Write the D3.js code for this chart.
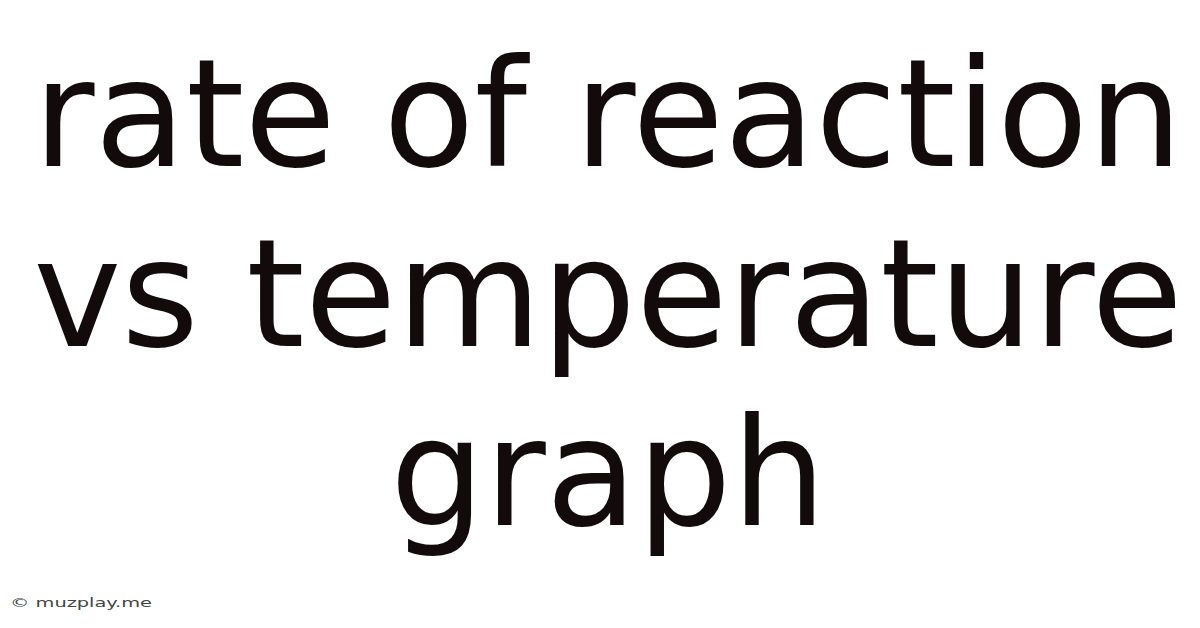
<!DOCTYPE html>
<html>
<head>
<meta charset="utf-8">
<script src="https://cdn.jsdelivr.net/npm/d3@7"></script>
<style>
  body { margin: 0; background: #fff; }
  svg { display: block; }
</style>
</head>
<body>
<div id="chart"></div>
<script>
// Title lines and watermark text
var titleLines = ["rate of reaction", "vs temperature", "graph"];
var watermark = "\u00a9 muzplay.me";

var w = 1200, h = 628;

var svg = d3.select("#chart")
  .append("svg")
  .attr("width", w)
  .attr("height", h);

svg.append("rect")
  .attr("width", w)
  .attr("height", h)
  .attr("fill", "#ffffff");

// one band per line, baselines spaced evenly
var y = d3.scalePoint()
  .domain(d3.range(titleLines.length))
  .range([166, 525]);

svg.selectAll(".title")
  .data(titleLines)
  .enter().append("text")
  .attr("class", "title")
  .attr("x", 608)
  .attr("y", (d, i) => y(i))
  .attr("text-anchor", "middle")
  .style("font-family", "'DejaVu Sans', sans-serif")
  .style("font-size", "149px")
  .style("fill", "#130b0b")
  .text(d => d);

// watermark is drawn stretched sideways in the original
svg.append("text")
  .attr("x", 10)
  .attr("y", 607)
  .attr("textLength", 142)
  .attr("lengthAdjust", "spacingAndGlyphs")
  .style("font-family", "'DejaVu Sans', sans-serif")
  .style("font-size", "13px")
  .style("fill", "#444")
  .text(watermark);
</script>
</body>
</html>
